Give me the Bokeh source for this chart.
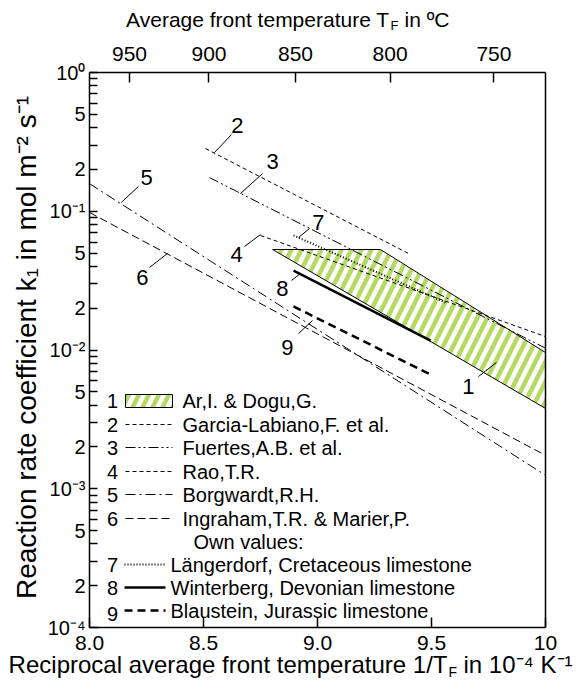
import math
from bokeh.plotting import figure
from bokeh.models import Range1d, LinearAxis, LogAxis, FixedTicker, Label, Arrow, BoxAnnotation
from bokeh.core.properties import value
from bokeh.embed import file_html
from bokeh.resources import INLINE

FONT = "Liberation Sans"

# ---------------- data ----------------
x_ticks = [8.0, 8.5, 9.0, 9.5, 10.0]
x_tick_labels = ["8.0", "8.5", "9.0", "9.5", "10"]
temp_ticks_c = [950, 900, 850, 800, 750]
y_ticks = [1e-4, 2e-4, 5e-4, 1e-3, 2e-3, 5e-3, 1e-2, 2e-2, 5e-2, 1e-1, 2e-1, 5e-1, 1.0]
y_tick_labels = ["10⁻⁴", "2", "5", "10⁻³", "2", "5", "10⁻²", "2", "5", "10⁻¹", "2", "5", "10⁰"]
y_minor_mult = [3, 4, 6, 7, 8, 9]
y_decades = [-4, -3, -2, -1]

# 1 Ar & Dogu (band)
band_x = [8.803, 9.276, 10.0, 10.0]
band_y = [0.0530, 0.0530, 0.00959, 0.00379]
# 2 Garcia-Labiano
garcia_x = [8.509, 9.399]
garcia_y = [0.283, 0.0496]
# 3 Fuertes
fuertes_x = [8.526, 10.0]
fuertes_y = [0.175, 0.0103]
# 4 Rao
rao_x = [8.75, 10.0]
rao_y = [0.0669, 0.0125]
# 5 Borgwardt
borg_x = [8.0, 10.0]
borg_y = [0.158, 0.00125]
# 6 Ingraham & Marier
ingr_x = [8.0, 10.0]
ingr_y = [0.098, 0.00174]
# 7 Laengerdorf
laeng_x = [8.895, 9.561]
laeng_y = [0.0669, 0.0220]
# 8 Winterberg
wint_x = [8.895, 9.496]
wint_y = [0.0374, 0.0117]
# 9 Blaustein
blau_x = [8.895, 9.504]
blau_y = [0.0206, 0.00655]

# curve number labels and leader lines (data coordinates)
num_text = ["1", "2", "3", "4", "5", "6", "7", "8", "9"]
num_x = [9.662, 8.649, 8.803, 8.645, 8.250, 8.232, 9.004, 8.846, 8.868]
num_y = [0.00546, 0.415, 0.229, 0.0488, 0.175, 0.0333, 0.083, 0.0277, 0.0104]
lead_x0 = [9.706, 8.623, 8.759, 8.680, 8.215, 8.263, 8.965, 8.886, 8.917]
lead_y0 = [0.00644, 0.357, 0.187, 0.0557, 0.151, 0.0393, 0.0751, 0.0317, 0.01315]
lead_x1 = [9.785, 8.548, 8.662, 8.750, 8.140, 8.342, 8.917, 8.925, 8.978]
lead_y1 = [0.00813, 0.265, 0.134, 0.068, 0.116, 0.0496, 0.0647, 0.0356, 0.0163]

legend_nums = ["1", "2", "3", "4", "5", "6", "", "7", "8", "9"]
legend_texts = ["Ar,I. & Dogu,G.", "Garcia-Labiano,F. et al.", "Fuertes,A.B. et al.",
                "Rao,T.R.", "Borgwardt,R.H.", "Ingraham,T.R. & Marier,P.", "Own values:",
                "Längerdorf, Cretaceous limestone", "Winterberg, Devonian limestone",
                "Blaustein, Jurassic limestone"]

# ---------------- styles / layout ----------------
styles = {
    "2": dict(line_dash="4 3", line_width=1),
    "3": dict(line_dash="10 3 2 3 2 3", line_width=1),
    "4": dict(line_dash="4 3", line_width=1),
    "5": dict(line_dash="10 4 2 4", line_width=1),
    "6": dict(line_dash="8 4", line_width=1),
    "7": dict(line_dash="1 2", line_width=2),
    "8": dict(line_dash="solid", line_width=2.5),
    "9": dict(line_dash="8 5", line_width=2.5),
}
HATCH = dict(hatch_pattern="/", hatch_color="#b5da63", hatch_weight=4.5, hatch_scale=20)

W, H = 579, 683
PL, PR, PT, PB = 89, 545, 72, 627          # plot box in canvas pixels
XMIN, XMAX = 8.0, 10.0
LMIN, LMAX = -4.0, 0.0                      # log10 of y limits
kx = (XMAX - XMIN) / (PR - PL)
ky = (LMAX - LMIN) / (PB - PT)
x_range = Range1d(XMIN - PL * kx, XMAX + (W - PR) * kx)
y_range = Range1d(10 ** (LMIN - (H - PB) * ky), 10 ** (LMAX + PT * ky))

def sx(cx):
    return cx
def sy(cy):
    return H - cy

p = figure(width=W, height=H, x_range=x_range, y_range=y_range,
           y_axis_type="log", output_backend="svg", toolbar_location=None,
           min_border=0, min_border_left=0, min_border_right=0,
           min_border_top=0, min_border_bottom=0)
p.grid.visible = False
p.outline_line_color = None
p.background_fill_color = "white"
p.border_fill_color = "white"

def style_axis(ax, size, standoff, tick_in):
    ax.major_tick_in = tick_in
    ax.major_tick_out = 0
    ax.minor_tick_out = 0
    ax.axis_line_width = 1.5
    ax.axis_line_color = "black"
    ax.major_tick_line_width = 1.5
    ax.minor_tick_line_width = 1.5
    ax.major_label_standoff = standoff
    ax.major_label_text_font = FONT
    ax.major_label_text_font_size = size
    ax.major_label_text_color = "black"

# bottom axis
bx = p.xaxis[0]
bx.fixed_location = 10 ** LMIN
bx.bounds = (XMIN, XMAX)
bx.ticker = FixedTicker(ticks=x_ticks, minor_ticks=[])
bx.major_label_overrides = dict(zip(x_ticks, x_tick_labels))
style_axis(bx, "21px", 8, 10)
bx.minor_tick_in = 0

# left axis
ly = p.yaxis[0]
ly.fixed_location = XMIN
ly.bounds = (10 ** LMIN, 10 ** LMAX)
y_minor = [m * 10.0 ** e for e in y_decades for m in y_minor_mult]
ly.ticker = FixedTicker(ticks=y_ticks, minor_ticks=y_minor)
ly.major_label_overrides = dict(zip(y_ticks, y_tick_labels))
style_axis(ly, "20px", 4, 8)
ly.minor_tick_in = 8

# top axis (temperature in deg C)
top_pos = [1e4 / (t + 273.15) for t in temp_ticks_c]
tx = LinearAxis(fixed_location=10 ** LMAX, bounds=(XMIN, XMAX),
                ticker=FixedTicker(ticks=top_pos, minor_ticks=[]))
tx.major_label_overrides = dict(zip(top_pos, [str(t) for t in temp_ticks_c]))
style_axis(tx, "21px", 12, 10)
tx.minor_tick_in = 0
p.add_layout(tx, "above")

# right axis: frame line only
ry = LogAxis(fixed_location=XMAX, bounds=(10 ** LMIN, 10 ** LMAX),
             ticker=FixedTicker(ticks=[], minor_ticks=[]))
style_axis(ry, "0px", 0, 0)
ry.minor_tick_in = 0
p.add_layout(ry, "right")

# band
p.patch(band_x, band_y, fill_color="white", line_color="black", line_width=1, **HATCH)

series = [("2", garcia_x, garcia_y), ("3", fuertes_x, fuertes_y), ("4", rao_x, rao_y),
          ("5", borg_x, borg_y), ("6", ingr_x, ingr_y), ("7", laeng_x, laeng_y),
          ("8", wint_x, wint_y), ("9", blau_x, blau_y)]
for key, xs, ys in series:
    p.line(xs, ys, line_color="black", **styles[key])

# leaders and numbers
p.segment(lead_x0, lead_y0, lead_x1, lead_y1, line_color="black", line_width=1)
p.text(num_x, num_y, text=num_text, text_font=value(FONT), text_font_size="22px",
       text_align="center", text_baseline="middle", text_color="black")

def lab(cx, cy, text, size, align="left", angle=0.0):
    p.add_layout(Label(x=sx(cx), y=sy(cy), x_units="screen", y_units="screen", text=text,
                       text_font=FONT, text_font_size=size, text_align=align,
                       text_baseline="middle", angle=angle, text_color="black"))

# legend (manual)
row_y = [400, 424, 447, 471, 494, 518, 541, 564, 587, 610]
for i, (n, t) in enumerate(zip(legend_nums, legend_texts)):
    cy = row_y[i]
    if i < 6:
        gx0, gx1, tx0 = 125, 172, 182
    elif i == 6:
        gx0, gx1, tx0 = None, None, 193
    else:
        gx0, gx1, tx0 = 124, 165, 170
    if n:
        lab(112, cy + (3 if n == "9" else 0), n, "20px", "center")
    lab(tx0, cy, t, "20px", "left")
    if n == "1":
        p.add_layout(BoxAnnotation(left=sx(gx0), right=sx(gx1), top=sy(cy - 6), bottom=sy(cy + 7),
                                   left_units="screen", right_units="screen",
                                   top_units="screen", bottom_units="screen",
                                   fill_color="white", fill_alpha=1, line_color="black",
                                   line_width=1, line_alpha=1, **HATCH))
    elif n:
        st = styles[n]
        p.add_layout(Arrow(end=None, x_start=sx(gx0), y_start=sy(cy), x_end=sx(gx1), y_end=sy(cy),
                           start_units="screen", end_units="screen", line_color="black",
                           line_dash=st["line_dash"], line_width=st["line_width"]))

# axis titles (with subscript F)
lab(389, 19, "Average front temperature T", "21px", "right")
lab(390, 25, "F", "13px", "left")
lab(404, 19, "in ºC", "21px", "left")
lab(447, 664, "Reciprocal average front temperature 1/T", "24px", "right")
lab(448, 671, "F", "14px", "left")
lab(463, 664, "in 10⁻⁴ K⁻¹", "24px", "left")
lab(26, 347, "Reaction rate coefficient k₁ in mol m⁻² s⁻¹", "28px", "center", math.pi / 2)

open("out.html", "w").write(file_html(p, INLINE))
